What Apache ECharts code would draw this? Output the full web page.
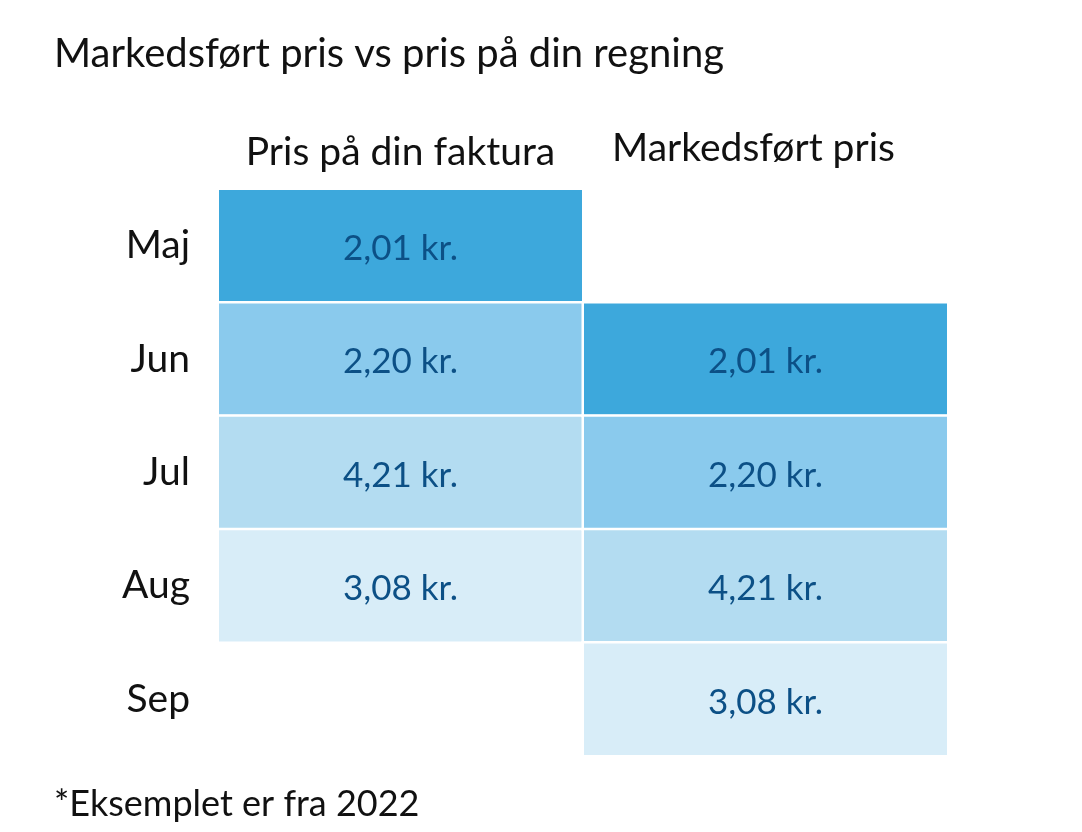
<!DOCTYPE html>
<html>
<head>
<meta charset="utf-8">
<script src="https://cdn.jsdelivr.net/npm/echarts@6/dist/echarts.min.js"></script>
<style>
  html, body { margin: 0; padding: 0; background: #fff; }
  #chart { width: 1082px; height: 832px; }
</style>
</head>
<body>
<div id="chart"></div>
<script>
// kolonner og rækker
const columns = ['Pris på din faktura', 'Markedsført pris']
const months = ['Maj', 'Jun', 'Jul', 'Aug', 'Sep']
// pris pr. måned (null = tom celle)
const fakturaPris = [2.01, 2.20, 4.21, 3.08, null]
const markedsfoertPris = [null, 2.01, 2.20, 4.21, 3.08]

const font = 'Lato, "Noto Sans", sans-serif'

let cells = []
;[fakturaPris, markedsfoertPris].forEach((col, x) => {
  col.forEach((v, y) => {
    if (v !== null) cells.push([x, y, v])
  })
})

let chart = echarts.init(document.getElementById('chart'))
let option = {
  animation: false,
  title: [{
    text: 'Markedsført pris vs pris på din regning',
    left: 49,
    top: 29,
    textStyle: { fontFamily: font, fontSize: 40, fontWeight: 'normal', color: '#111' }
  }, {
    text: '*Eksemplet er fra 2022',
    left: 49,
    top: 781,
    textStyle: { fontFamily: font, fontSize: 36, fontWeight: 'normal', color: '#111' }
  }],
  grid: {
    left: 218,
    right: 134,
    top: 189,
    bottom: 76
  },
  xAxis: {
    type: 'category',
    position: 'top',
    data: columns,
    axisLine: { show: false },
    axisTick: { show: false },
    splitLine: { show: false },
    axisLabel: {
      interval: 0,
      margin: 17,
      fontFamily: font,
      fontSize: 39,
      color: '#111',
      // anden overskrift sidder lidt til venstre og højere i originalen
      formatter: (value, i) => i === 1 ? '{m|' + value + '}' : value,
      rich: {
        m: {
          fontFamily: font,
          fontSize: 39,
          color: '#111',
          padding: [0, 24, 4, 0]
        }
      }
    }
  },
  yAxis: {
    type: 'category',
    inverse: true,
    data: months,
    axisLine: { show: false },
    axisTick: { show: false },
    splitLine: { show: false },
    axisLabel: {
      interval: 0,
      margin: 28,
      padding: [8, 0, 0, 0],
      fontFamily: font,
      fontSize: 39,
      color: '#111'
    }
  },
  // farver følger rækkefølgen, ikke størrelsen
  visualMap: {
    show: false,
    type: 'piecewise',
    dimension: 2,
    pieces: [
      { value: 2.01, color: '#3DA8DC' },
      { value: 2.20, color: '#8ACAED' },
      { value: 4.21, color: '#B3DCF1' },
      { value: 3.08, color: '#D8EDF8' }
    ]
  },
  series: [{
    type: 'heatmap',
    data: cells,
    itemStyle: {
      borderColor: '#fff',
      borderWidth: 2.5
    },
    label: {
      show: true,
      offset: [0, 3],
      fontFamily: font,
      fontSize: 35,
      color: '#0C5086',
      formatter: (p) => p.value[2].toFixed(2).replace('.', ',') + ' kr.'
    },
    emphasis: { disabled: true }
  }]
}
chart.setOption(option)
</script>
</body>
</html>
